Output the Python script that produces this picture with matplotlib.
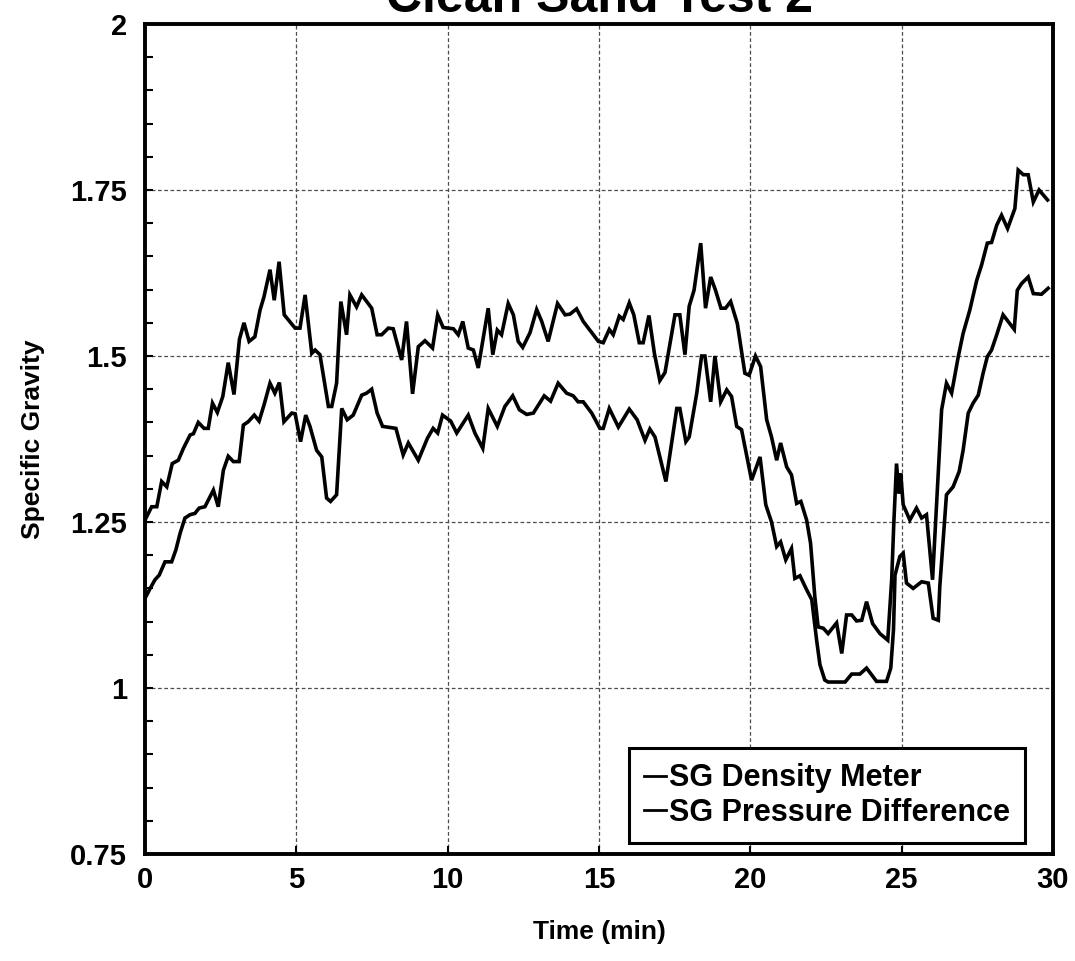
import matplotlib
matplotlib.use("Agg")
import matplotlib.pyplot as plt
from matplotlib.ticker import MultipleLocator, FormatStrFormatter

# ---------------- data ----------------
title = "Clean Sand Test 2"
xlabel = "Time (min)"
ylabel = "Specific Gravity"
series_names = ["SG Density Meter", "SG Pressure Difference"]

density_t = [0, 0.22, 0.39, 0.55, 0.72, 0.90, 1.10, 1.27, 1.49, 1.60, 1.76, 1.95, 2.09, 2.23, 2.39,
             2.57, 2.75, 2.94, 3.12, 3.27, 3.44, 3.63, 3.80, 3.93, 4.13, 4.27, 4.43, 4.60, 4.96,
             5.12, 5.29, 5.51, 5.62, 5.78, 6.06, 6.17, 6.33, 6.47, 6.66, 6.77, 6.99, 7.16, 7.49,
             7.67, 7.82, 8.04, 8.20, 8.48, 8.64, 8.84, 9.03, 9.25, 9.50, 9.67, 9.85, 10.19, 10.35,
             10.50, 10.68, 10.85, 11.01, 11.34, 11.49, 11.64, 11.78, 12.00, 12.17, 12.33, 12.48,
             12.72, 12.94, 13.10, 13.32, 13.63, 13.88, 14.04, 14.26, 14.48, 14.98, 15.14, 15.34,
             15.47, 15.67, 15.80, 16.00, 16.15, 16.33, 16.46, 16.65, 16.83, 17.01, 17.18, 17.51,
             17.67, 17.84, 17.98, 18.14, 18.36, 18.52, 18.69, 18.85, 19.03, 19.18, 19.35, 19.57,
             19.82, 19.96, 20.17, 20.34, 20.54, 20.70, 20.87, 21.00, 21.20, 21.36, 21.53, 21.67,
             21.86, 21.99, 22.13, 22.24, 22.41, 22.57, 22.85, 23.02, 23.18, 23.35, 23.51, 23.68,
             23.84, 24.04, 24.28, 24.54, 24.67, 24.74, 24.83, 24.91, 24.97, 25.05, 25.27, 25.49,
             25.66, 25.82, 26.02, 26.32, 26.48, 26.65, 26.87, 27.03, 27.25, 27.48, 27.64, 27.83,
             27.97, 28.14, 28.30, 28.50, 28.74, 28.85, 29.02, 29.18, 29.35, 29.54, 29.82]
density_sg = [1.253, 1.273, 1.273, 1.311, 1.303, 1.338, 1.343, 1.361, 1.381, 1.383, 1.400, 1.391,
              1.391, 1.429, 1.415, 1.439, 1.490, 1.442, 1.525, 1.550, 1.522, 1.529, 1.569, 1.589,
              1.630, 1.584, 1.642, 1.562, 1.542, 1.542, 1.592, 1.504, 1.509, 1.502, 1.424, 1.424,
              1.459, 1.582, 1.532, 1.592, 1.574, 1.592, 1.572, 1.532, 1.532, 1.542, 1.541, 1.494,
              1.552, 1.443, 1.514, 1.523, 1.512, 1.562, 1.543, 1.541, 1.532, 1.552, 1.512, 1.509,
              1.482, 1.572, 1.502, 1.539, 1.532, 1.579, 1.562, 1.522, 1.513, 1.535, 1.570, 1.553,
              1.522, 1.579, 1.562, 1.563, 1.571, 1.552, 1.522, 1.520, 1.540, 1.532, 1.560, 1.555,
              1.580, 1.562, 1.520, 1.520, 1.561, 1.504, 1.463, 1.475, 1.562, 1.562, 1.502, 1.575,
              1.599, 1.670, 1.572, 1.619, 1.599, 1.572, 1.572, 1.582, 1.549, 1.474, 1.471, 1.500,
              1.484, 1.404, 1.378, 1.343, 1.369, 1.333, 1.321, 1.278, 1.281, 1.253, 1.218, 1.138,
              1.092, 1.090, 1.082, 1.098, 1.052, 1.110, 1.110, 1.101, 1.102, 1.130, 1.097, 1.082,
              1.072, 1.163, 1.248, 1.338, 1.293, 1.323, 1.276, 1.253, 1.271, 1.256, 1.261, 1.163,
              1.419, 1.459, 1.444, 1.499, 1.534, 1.569, 1.614, 1.637, 1.670, 1.671, 1.697, 1.712,
              1.692, 1.722, 1.780, 1.773, 1.773, 1.732, 1.750, 1.735]

pressure_t = [0, 0.17, 0.33, 0.47, 0.66, 0.88, 1.02, 1.16, 1.32, 1.49, 1.65, 1.79, 1.98, 2.26, 2.42,
              2.59, 2.75, 2.92, 3.11, 3.25, 3.41, 3.61, 3.77, 3.93, 4.13, 4.29, 4.44, 4.59, 4.85,
              4.96, 5.14, 5.31, 5.45, 5.67, 5.84, 6.00, 6.13, 6.33, 6.50, 6.68, 6.88, 7.16, 7.32,
              7.49, 7.67, 7.85, 8.29, 8.53, 8.70, 9.03, 9.33, 9.52, 9.67, 9.83, 10.10, 10.30, 10.68,
              10.90, 11.16, 11.34, 11.64, 11.89, 12.15, 12.37, 12.61, 12.83, 13.19, 13.40, 13.65,
              13.93, 14.15, 14.31, 14.48, 14.76, 15.03, 15.14, 15.34, 15.64, 16.00, 16.26, 16.52,
              16.68, 16.85, 17.21, 17.57, 17.67, 17.87, 17.98, 18.23, 18.39, 18.50, 18.69, 18.83,
              19.02, 19.22, 19.38, 19.55, 19.71, 20.04, 20.32, 20.51, 20.70, 20.87, 21.00, 21.17,
              21.36, 21.47, 21.64, 21.86, 22.03, 22.19, 22.30, 22.46, 22.57, 23.13, 23.35, 23.62,
              23.84, 24.17, 24.50, 24.64, 24.73, 24.78, 24.94, 25.05, 25.16, 25.38, 25.66, 25.88,
              26.04, 26.21, 26.26, 26.48, 26.70, 26.90, 27.03, 27.20, 27.36, 27.53, 27.69, 27.83,
              27.97, 28.14, 28.35, 28.52, 28.72, 28.82, 28.96, 29.18, 29.35, 29.62, 29.84]
pressure_sg = [1.135, 1.150, 1.163, 1.170, 1.190, 1.190, 1.208, 1.233, 1.256, 1.261, 1.263, 1.271,
               1.273, 1.298, 1.273, 1.328, 1.349, 1.341, 1.341, 1.396, 1.401, 1.411, 1.402, 1.426,
               1.459, 1.444, 1.460, 1.401, 1.414, 1.413, 1.371, 1.411, 1.394, 1.358, 1.348, 1.286,
               1.281, 1.291, 1.421, 1.404, 1.411, 1.441, 1.444, 1.450, 1.414, 1.394, 1.391, 1.351,
               1.369, 1.343, 1.376, 1.391, 1.384, 1.411, 1.402, 1.384, 1.411, 1.384, 1.361, 1.421,
               1.394, 1.424, 1.440, 1.419, 1.412, 1.414, 1.440, 1.432, 1.459, 1.444, 1.440, 1.431,
               1.431, 1.414, 1.391, 1.391, 1.421, 1.393, 1.420, 1.404, 1.373, 1.390, 1.378, 1.311,
               1.421, 1.421, 1.371, 1.378, 1.444, 1.500, 1.500, 1.431, 1.500, 1.431, 1.449, 1.439,
               1.394, 1.389, 1.313, 1.348, 1.276, 1.250, 1.213, 1.220, 1.193, 1.210, 1.165, 1.169,
               1.148, 1.133, 1.072, 1.035, 1.012, 1.009, 1.009, 1.021, 1.021, 1.030, 1.010, 1.010,
               1.030, 1.088, 1.170, 1.198, 1.203, 1.158, 1.150, 1.160, 1.158, 1.105, 1.102, 1.153,
               1.291, 1.303, 1.326, 1.358, 1.414, 1.429, 1.441, 1.474, 1.499, 1.509, 1.532, 1.562,
               1.552, 1.540, 1.599, 1.609, 1.619, 1.594, 1.593, 1.602]

x_ticks = [0, 5, 10, 15, 20, 25, 30]
y_ticks = [0.75, 1, 1.25, 1.5, 1.75, 2]

# ---------------- figure ----------------
plt.rcParams['font.family'] = ['Liberation Sans', 'DejaVu Sans']
plt.rcParams['font.weight'] = 'bold'

fig = plt.figure(figsize=(10.75, 9.61), dpi=100)
ax = fig.add_axes([145/1075, 107/961, 908/1075, 830/961])

ax.plot(density_t, density_sg, color='black', lw=2.6, label=series_names[0],
        solid_joinstyle='miter')
ax.plot(pressure_t, pressure_sg, color='black', lw=2.6, label=series_names[1],
        solid_joinstyle='miter')

ax.set_xlim(0, 30)
ax.set_ylim(0.75, 2)
ax.set_xticks(x_ticks)
ax.set_yticks(y_ticks)
ax.yaxis.set_minor_locator(MultipleLocator(0.05))
ax.yaxis.set_major_formatter(FormatStrFormatter('%g'))

ax.grid(True, which='major', color='0.3', linestyle=(0, (3, 2)), lw=0.9)
ax.set_axisbelow(True)

for s in ax.spines.values():
    s.set_linewidth(2.8)

ax.tick_params(axis='both', which='major', direction='in', length=6, width=1.5,
               labelsize=21)
ax.tick_params(axis='y', which='major', pad=13)
ax.tick_params(axis='x', which='major', pad=9)
ax.tick_params(axis='y', which='minor', direction='in', length=6, width=1.5)
for lab in ax.get_xticklabels() + ax.get_yticklabels():
    lab.set_fontweight('bold')

ax.set_xlabel(xlabel, fontsize=19, fontweight='bold', labelpad=18)
ax.set_ylabel(ylabel, fontsize=19, fontweight='bold', labelpad=18)
ax.set_title(title, fontsize=36, fontweight='bold', pad=9)

leg = ax.legend(loc='lower right', bbox_to_anchor=(0.969, 0.013), borderaxespad=0,
                fontsize=22, handlelength=0.7, handletextpad=0.1, labelspacing=0.15,
                borderpad=0.5, fancybox=False, framealpha=1, edgecolor='black',
                prop={'weight': 'bold', 'size': 22})
leg.get_frame().set_linewidth(2.2)
for h in leg.get_lines():
    h.set_linewidth(2.0)

fig.savefig('out.png', dpi=100)
